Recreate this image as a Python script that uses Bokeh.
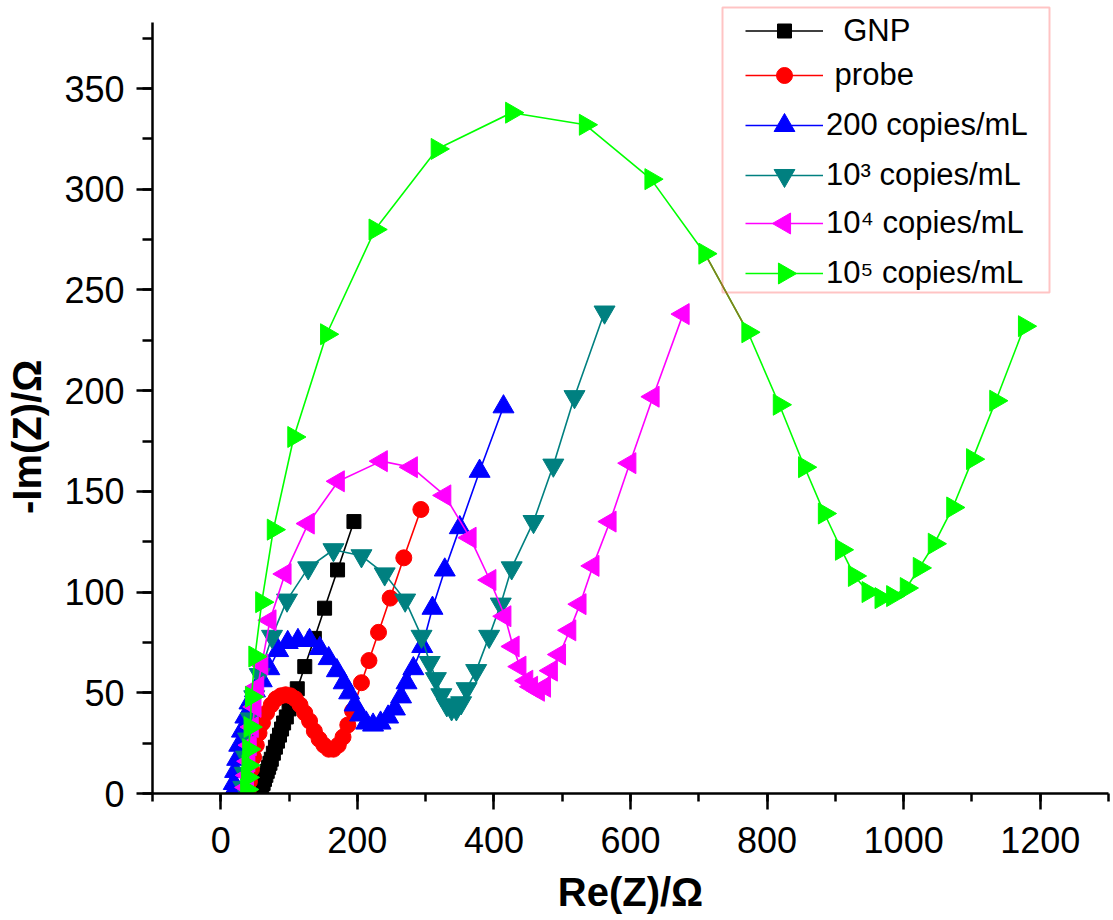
import math
from bokeh.plotting import figure
from bokeh.models import Legend, LegendItem, SingleIntervalTicker, Range1d, BoxAnnotation
from bokeh.embed import file_html
from bokeh.resources import INLINE

# ---- data (Re(Z), -Im(Z)) in ohm ----
gnp_x = [60, 62, 64, 66, 68, 70, 72, 74, 77, 80, 83, 86, 89, 92, 96, 100, 105, 112, 123, 137, 152, 171, 195]
gnp_y = [3, 5, 7, 9, 11, 13, 15, 17, 20, 23, 26, 29, 32, 35, 38, 42, 46, 52, 63, 77, 92, 111, 135]

probe_x = [40, 42, 45, 48, 52, 56, 61, 67, 74, 81, 88, 95, 102, 109, 116, 123, 130, 137, 144, 151,
           158, 165, 172, 179, 186, 193, 206, 217, 231, 248, 268, 293]
probe_y = [1, 6, 12, 18, 24, 30, 35, 40, 44, 47, 48.5, 49, 48.5, 47, 44, 40, 36, 31, 27, 24,
           22, 22, 24, 28, 34, 41, 55, 66, 80, 97, 117, 141]

c200_x = [17, 19, 21, 24, 27, 31, 36, 42, 50, 60, 71, 84, 98, 113, 130, 145, 158, 170, 180, 188,
          196, 204, 213, 223, 234, 245, 255, 264, 272, 282, 295, 310, 328, 350, 379, 414]
c200_y = [0, 5, 11, 17, 24, 31, 38, 45, 51, 56, 62, 71, 75, 76, 76, 72, 67, 61, 55, 50,
          44, 39, 35, 34, 35, 38, 42, 48, 55, 62, 73, 92, 111, 132, 160, 192]

c1e3_x = [33, 35, 37, 40, 44, 49, 57, 75, 97, 128, 165, 206, 240, 270, 294, 306, 315, 323, 331, 338,
          345, 352, 360, 374, 393, 410, 426, 458, 487, 518, 562]
c1e3_y = [3, 10, 18, 27, 37, 48, 59, 78, 96, 112, 121, 118, 109, 96, 78, 65, 57, 49, 44, 42,
          42, 45, 52, 61, 78, 94, 112, 135, 163, 197, 239]

c1e4_x = [38, 39, 41, 43, 46, 50, 54, 60, 72, 94, 128, 172, 235, 279, 328, 365, 394, 416, 428, 438,
          448, 455, 465, 474, 484, 496, 511, 526, 545, 570, 599, 633, 677]
c1e4_y = [3, 9, 16, 24, 33, 43, 53, 64, 86, 109, 134, 155, 165, 162, 148, 127, 106, 88, 73, 63,
          56, 53, 51, 53, 61, 69, 81, 94, 113, 135, 164, 197, 238]

c1e5_x = [38, 39, 40, 41, 43, 45, 50, 60, 77, 107, 155, 226, 317, 426, 534, 630, 709, 772, 818, 855,
          884, 909, 928, 948, 967, 984, 1004, 1023, 1045, 1072, 1101, 1135, 1177]
c1e5_y = [2, 8, 14, 22, 33, 48, 68, 95, 131, 177, 228, 280, 320, 338, 332, 305, 268, 229, 193, 162,
          139, 121, 108, 100, 97, 98, 102, 112, 124, 142, 166, 195, 232]

labels = ["\u00a0\u00a0GNP", "\u00a0probe", "200 copies/mL", "10\u00b3 copies/mL",
          "10\u2074 copies/mL", "10\u2075 copies/mL"]

FONT = "Liberation Sans"

# layout geometry (pixels)
X0, X1, Y0, Y1 = -100, 1300, 0, 392.7
Y_AXIS_END = 383
BL, BR, BT, BB = 152, 2, 2, 124
W, H = 1110, 917
FW, FH = W - BL - BR, H - BT - BB

p = figure(width=W, height=H, output_backend="svg", toolbar_location=None,
           x_range=Range1d(X0, X1), y_range=Range1d(Y0, Y1),
           min_border_left=BL, min_border_right=BR, min_border_top=BT, min_border_bottom=BB)
p.xgrid.visible = False
p.ygrid.visible = False
p.outline_line_color = None
p.background_fill_color = "white"

for ax in (p.xaxis[0], p.yaxis[0]):
    ax.axis_line_width = 2.5
    ax.axis_line_color = "black"
    ax.major_tick_line_width = 2.5
    ax.minor_tick_line_width = 2.5
    ax.major_tick_line_color = "black"
    ax.minor_tick_line_color = "black"
    ax.major_tick_in = 0
    ax.minor_tick_in = 0
    ax.major_tick_out = 16
    ax.major_label_text_font = FONT
    ax.major_label_text_font_size = "36px"
    ax.major_label_text_color = "black"
    ax.axis_label_text_font = FONT
    ax.axis_label_text_font_size = "40px"
    ax.axis_label_text_font_style = "bold"
    ax.axis_label_text_color = "black"

p.xaxis.ticker = SingleIntervalTicker(interval=200, num_minor_ticks=2)
p.yaxis.ticker = SingleIntervalTicker(interval=50, num_minor_ticks=2)
p.yaxis.bounds = (Y0, Y_AXIS_END)
p.xaxis.minor_tick_out = 8
p.yaxis.minor_tick_out = 10
p.xaxis.major_label_standoff = 17
p.yaxis.major_label_standoff = 12

p.xaxis.axis_label = "Re(Z)/\u03a9"
p.xaxis.axis_label_standoff = 14
p.yaxis.axis_label = "-Im(Z)/\u03a9" + "\u00a0" * 7
p.yaxis.axis_label_standoff = 12

series = [
    (gnp_x, gnp_y, "black", "square", 14, 0.0, 35),
    (probe_x, probe_y, "#ff0000", "circle", 16, 0.0, 40),
    (c200_x, c200_y, "#0000ff", "triangle", 21, 0.0, 52),
    (c1e3_x, c1e3_y, "#008080", "inverted_triangle", 21, 0.0, 52),
    (c1e4_x, c1e4_y, "#ff00ff", "triangle", 21, math.pi / 2, 52),
    (c1e5_x, c1e5_y, "#00ff00", "triangle", 21, -math.pi / 2, 52),
]

# legend frame (px relative to plot frame)
LEG_L, LEG_R, LEG_B, LEG_T = 570, 897, 501, 786
p.add_layout(BoxAnnotation(left=LEG_L, right=LEG_R, bottom=LEG_B, top=LEG_T,
                           left_units="screen", right_units="screen",
                           bottom_units="screen", top_units="screen",
                           fill_color=None, line_color="#ff3a3a", line_width=2))

GLYPH_X = 593           # legend key start, px from frame left
GLYPH_W = 78
centers = [762, 718, 668, 618, 570, 520]   # legend item centres, px above frame bottom

for i, (xs, ys, col, mk, sz, ang, gh) in enumerate(series):
    lr = p.line(xs, ys, line_color=col, line_width=1.6)
    if i == 5:
        p.line(xs[16:18], ys[16:18], line_color="#857a1c", line_width=1.6)
    sr = p.scatter(xs, ys, marker=mk, size=sz, angle=ang, fill_color=col, line_color=col)
    rends = [lr, sr]
    if ang != 0.0:
        # legend keys cannot rotate markers: draw the rotated key marker ourselves
        kx = X0 + (GLYPH_X + GLYPH_W / 2) * (X1 - X0) / FW
        ky = Y0 + centers[i] * (Y1 - Y0) / FH
        p.scatter([kx], [ky], marker=mk, size=sz, angle=ang, fill_color=col, line_color=col)
        rends = [lr]
    leg = Legend(items=[LegendItem(label=labels[i], renderers=rends)],
                 location=(GLYPH_X, centers[i] - gh / 2), orientation="vertical",
                 border_line_color=None, background_fill_alpha=0,
                 padding=0, margin=0, spacing=0,
                 glyph_width=GLYPH_W, glyph_height=gh, label_height=gh, label_standoff=3,
                 label_text_font=FONT, label_text_font_size="31px",
                 label_text_color="black", label_text_baseline="middle")
    p.add_layout(leg)

open("out.html", "w").write(file_html(p, INLINE))
